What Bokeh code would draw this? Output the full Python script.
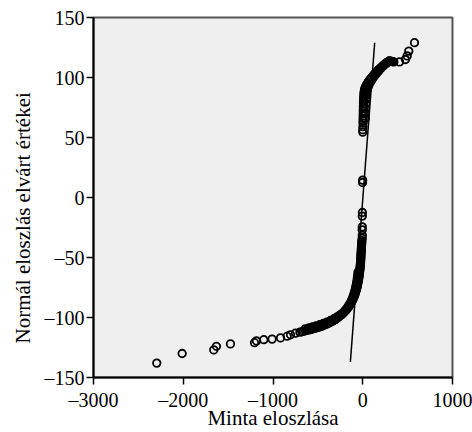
from bokeh.plotting import figure
from bokeh.models import Range1d, FixedTicker, Title
from bokeh.embed import file_html
from bokeh.resources import INLINE

# Lower tail: isolated points
tail_x = [-2295, -2012, -1660, -1630, -1474, -1206, -1184, -1102, -1010, -916,
          -842, -805, -749]
tail_y = [-138, -130, -127, -124, -122, -121, -119.5, -118.5, -118, -117,
          -115.6, -114.4, -113]

# Lower dense band (main track)
low_x = [-700, -680, -660, -640, -620, -600, -580, -562, -545, -528,
         -510, -495, -480, -465, -450, -435, -420, -408, -395, -382,
         -370, -358, -345, -332, -320, -310, -300, -290, -280, -270,
         -260, -250, -240, -230, -220, -210, -200, -192, -185, -178,
         -170, -162, -155, -148, -140, -134, -128, -122, -116, -110,
         -105, -100, -95, -90, -86, -82, -78, -74, -70, -66,
         -63, -60, -57, -54, -51, -48, -46, -43, -41, -39,
         -37, -35, -33, -31, -30, -28, -27, -25, -24, -23,
         -22, -21, -20, -19, -18, -17, -16, -15, -14, -13,
         -12, -11, -10]
low_y = [-112.2, -111.9, -111.5, -111.1, -110.6, -110.3, -110, -109.6, -109.3, -108.9,
         -108.5, -108.1, -107.8, -107.4, -107, -106.5, -106, -105.6, -105.2, -104.8,
         -104.3, -103.8, -103.3, -102.8, -102.3, -101.8, -101.2, -100.7, -100.2, -99.6,
         -99, -98.4, -97.8, -97.2, -96.5, -95.8, -95, -94.4, -93.8, -93.1,
         -92.3, -91.6, -90.8, -90, -89.2, -88.4, -87.5, -86.7, -85.8, -84.9,
         -84, -83.1, -82.2, -81.3, -80.3, -79.4, -78.4, -77.4, -76.4, -75.4,
         -74.3, -73.3, -72.2, -71.1, -70, -68.9, -67.8, -66.7, -65.5, -64.4,
         -63.2, -62, -60.8, -59.6, -58.4, -57.2, -56, -54.8, -53.5, -52.3,
         -51, -49.8, -48.5, -47.3, -46, -44.8, -43.5, -42.3, -41, -39.8,
         -38.6, -37.3, -36]

# Lower dense band (outer track)
low2_x = [-640, -600, -560, -520, -480, -440, -400, -360, -320, -285,
          -255, -228, -205, -185, -167, -152, -138, -126, -115, -105,
          -96, -88, -81, -75, -69, -64, -60, -56, -52]
low2_y = [-109.5, -108.6, -107.8, -107, -106, -105, -103.8, -102.5, -101, -99.5,
          -98, -96.5, -94.8, -93.1, -91.3, -89.5, -87.7, -85.8, -83.9, -81.9,
          -79.9, -77.8, -75.7, -73.5, -71.3, -69.1, -66.8, -64.5, -62.1]

# Middle isolated points
mid_x = [-6, -5, -6, -5, -5, -4, -2, -1, 0, 1, 2, 3]
mid_y = [-34, -31.5, -27, -24.5, -15.5, -12.5, 12.5, 14.5, 54.5, 56.5, 59, 62]

# Upper dense band (main track)
up_x = [4, 5, 5, 6, 6, 7, 7, 8, 9, 10,
        11, 13, 15, 18, 22, 27, 33, 39, 45, 52,
        59, 66, 74, 82, 90, 98, 107, 116, 125, 134,
        144, 154, 164, 174, 185, 196, 207, 219, 231, 243,
        256, 269, 282, 295, 308, 320, 333, 346]
up_y = [64, 66, 68, 70, 72, 74, 76, 78, 80, 82,
        84, 86, 87.5, 89, 90.3, 91.5, 92.5, 93.4, 94.2, 95,
        95.8, 96.6, 97.4, 98.2, 99, 99.8, 100.6, 101.4, 102.2, 103,
        103.8, 104.6, 105.4, 106.2, 107, 107.8, 108.6, 109.4, 110.2, 111,
        111.8, 112.5, 113.1, 113.6, 113.6, 113.4, 113.2, 113]

# Upper dense band (second track)
up2_x = [28, 30, 31, 32, 33, 35, 40, 47, 55, 64,
         74, 85, 97, 110, 124, 139, 155, 172, 190, 209,
         229, 250, 272, 295]
up2_y = [66, 70, 74, 78, 82, 85, 87.5, 89.5, 91.3, 93,
         94.6, 96.1, 97.6, 99.1, 100.6, 102.1, 103.6, 105.1, 106.6, 108.1,
         109.6, 111, 112.4, 113.8]

# Upper tail: isolated points
top_x = [410, 476, 495, 513, 577]
top_y = [113, 115, 118, 122, 129]

sample_x = tail_x + low_x + low2_x + mid_x + up_x + up2_x + top_x
expected_y = tail_y + low_y + low2_y + mid_y + up_y + up2_y + top_y

# Reference line end points
line_x = [-138, 133]
line_y = [-137, 129]

x_ticks = [-3000, -2000, -1000, 0, 1000]
x_tick_labels = ["\u20133000", "\u20132000", "\u20131000", "0", "1000"]
y_ticks = [-150, -100, -50, 0, 50, 100, 150]
y_tick_labels = ["\u2013150", "\u2013100", "\u201350", "0", "50", "100", "150"]

FONT = "Liberation Serif"

p = figure(width=472, height=432, output_backend="svg", toolbar_location=None,
           x_range=Range1d(-3000, 1000), y_range=Range1d(-150, 150),
           min_border_left=93, min_border_right=20, min_border_top=17,
           min_border_bottom=55)

p.background_fill_color = "#efefef"
p.border_fill_color = "white"
p.outline_line_color = "#555555"
p.outline_line_width = 2
p.xgrid.visible = False
p.ygrid.visible = False

p.line(line_x, line_y, line_color="black", line_width=1.5)
p.scatter(sample_x, expected_y, marker="circle", size=7.5, fill_color=None,
          line_color="black", line_width=1.8)

for ax in (p.xaxis[0], p.yaxis[0]):
    ax.axis_line_color = "black"
    ax.axis_line_width = 2
    ax.major_tick_line_color = "black"
    ax.major_tick_line_width = 1.5
    ax.major_tick_in = 0
    ax.major_tick_out = 7
    ax.minor_tick_line_color = None
    ax.major_label_text_font = FONT
    ax.major_label_text_font_size = "20px"
    ax.major_label_text_color = "black"
    ax.axis_label_text_font = FONT
    ax.axis_label_text_font_size = "21px"
    ax.axis_label_text_font_style = "normal"
    ax.axis_label_text_color = "black"

p.xaxis.ticker = FixedTicker(ticks=x_ticks)
p.xaxis.major_label_overrides = dict(zip(x_ticks, x_tick_labels))
p.yaxis.ticker = FixedTicker(ticks=y_ticks)
p.yaxis.major_label_overrides = dict(zip(y_ticks, y_tick_labels))
p.xaxis.axis_label = "Minta eloszlása"
p.xaxis.major_label_standoff = 4
p.xaxis.axis_label_standoff = -8
p.yaxis.major_label_standoff = 2

# Y axis title, starting a little above the bottom of the frame as in the original
ytitle = Title(text="Normál eloszlás elvárt értékei", align="left",
               offset=34, standoff=13, text_font=FONT, text_font_size="21px",
               text_font_style="normal", text_color="black")
p.add_layout(ytitle, "left")

open("out.html", "w").write(file_html(p, INLINE))
